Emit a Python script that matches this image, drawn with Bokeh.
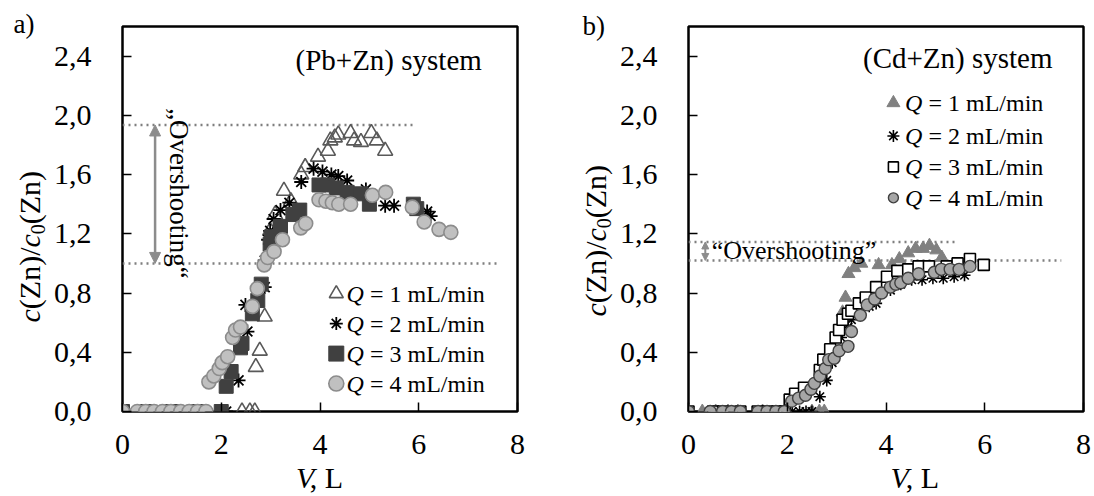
import math
from bokeh.plotting import figure
from bokeh.layouts import row, column
from bokeh.models import Label, Arrow, NormalHead, FixedTicker, CustomJSTickFormatter
from bokeh.embed import file_html
from bokeh.resources import INLINE

FONT = "Liberation Serif"

# ---------------- data: panel a, (Pb+Zn) system ----------------
a_q1_v = [0, 2.42, 2.58, 2.68, 2.70, 2.78, 2.88, 2.99, 3.09, 3.27, 3.41, 3.62, 3.70, 3.96, 4.16, 4.21,
          4.30, 4.37, 4.62, 4.69, 4.83, 5.04, 5.15, 5.32]
a_q1_c = [0, 0, 0, 0, 0.30, 0.41, 0.64, 1.22, 1.33, 1.49, 1.42, 1.60, 1.65, 1.72, 1.76, 1.83,
          1.85, 1.87, 1.88, 1.83, 1.82, 1.88, 1.83, 1.76]
a_q2_v = [0, 2.10, 2.35, 2.49, 2.53, 2.88, 2.88, 2.95, 2.99, 3.06, 3.20, 3.38, 3.62, 3.87, 4.05, 4.23,
          4.37, 4.55, 4.93, 5.32, 5.50, 6.17, 6.24]
a_q2_c = [0, 0, 0.21, 0.72, 0.54, 0.84, 1.02, 1.16, 1.22, 1.30, 1.36, 1.41, 1.55, 1.64, 1.62, 1.60,
          1.59, 1.56, 1.50, 1.39, 1.39, 1.35, 1.32]
a_q3_v = [0, 0.5, 1.0, 1.5, 2.0, 2.10, 2.20, 2.39, 2.42, 2.63, 2.74, 2.81, 2.99, 3.02, 3.20, 3.45,
          3.59, 3.98, 4.15, 4.33, 4.55, 4.83, 5.00, 5.89, 5.96]
a_q3_c = [0, 0, 0, 0, 0, 0.17, 0.27, 0.43, 0.46, 0.66, 0.75, 0.86, 1.13, 1.18, 1.25, 1.33,
          1.36, 1.53, 1.53, 1.51, 1.48, 1.47, 1.40, 1.40, 1.37]
a_q4_v = [0, 0.30, 0.47, 0.64, 0.81, 0.98, 1.18, 1.35, 1.52, 1.69, 1.75, 1.85, 1.96, 2.02, 2.13,
          2.23, 2.29, 2.39, 2.63, 2.73, 2.87, 2.94, 3.07, 3.24, 3.61, 3.71, 3.98, 4.12, 4.25, 4.38,
          4.62, 5.06, 5.33, 5.87, 6.11, 6.41, 6.65]
a_q4_c = [0, 0, 0, 0, 0, 0, 0, 0, 0, 0, 0.20, 0.24, 0.29, 0.33, 0.37,
          0.50, 0.55, 0.57, 0.71, 0.83, 0.99, 1.04, 1.08, 1.16, 1.24, 1.27, 1.43, 1.42, 1.41, 1.40,
          1.40, 1.46, 1.48, 1.38, 1.28, 1.23, 1.21]

# ---------------- data: panel b, (Cd+Zn) system ----------------
b_q1_v = [0, 0.28, 0.55, 0.80, 1.0, 1.5, 2.0, 2.5, 2.65, 2.75, 3.12, 3.18, 3.24, 3.36, 3.50, 3.85,
          4.12, 4.27, 4.45, 4.60, 4.75, 4.88, 5.02, 5.13]
b_q1_c = [0, 0, 0, 0, 0, 0, 0, 0, 0, 0, 0.67, 0.77, 0.93, 0.97, 1.00, 0.99,
          0.99, 1.03, 1.07, 1.10, 1.10, 1.12, 1.09, 1.04]
b_q2_v = [0, 0.50, 0.70, 1.05, 1.40, 1.60, 1.80, 2.10, 2.25, 2.38, 2.50, 2.66, 2.80, 2.91, 3.02,
          3.09, 3.23, 3.30, 3.45, 3.66, 3.80, 4.09, 4.30, 4.52, 4.73, 4.95, 5.16, 5.38, 5.59]
b_q2_c = [0, 0, 0, 0, 0, 0, 0, 0, 0, 0, 0, 0.10, 0.21, 0.33, 0.41,
          0.50, 0.57, 0.62, 0.68, 0.71, 0.73, 0.82, 0.86, 0.89, 0.89, 0.90, 0.90, 0.91, 0.92]
b_q3_v = [0, 0.50, 0.70, 1.05, 1.40, 1.60, 1.80, 1.95, 2.05, 2.16, 2.34, 2.66, 2.73, 2.87, 2.98,
          3.05, 3.12, 3.23, 3.30, 3.45, 3.59, 3.80, 4.02, 4.23, 4.45, 4.66, 4.87, 5.23, 5.45, 5.70, 5.98]
b_q3_c = [0, 0, 0, 0, 0, 0, 0, 0, 0.08, 0.12, 0.16, 0.28, 0.35, 0.42, 0.50,
          0.55, 0.62, 0.66, 0.68, 0.73, 0.77, 0.84, 0.91, 0.95, 0.96, 0.98, 0.98, 0.98, 1.00, 1.03, 0.99]
b_q4_v = [0, 0.44, 0.69, 0.87, 1.05, 1.41, 1.59, 1.77, 1.94, 2.09, 2.23, 2.37, 2.48, 2.55, 2.66,
          2.77, 2.84, 2.95, 3.05, 3.23, 3.30, 3.48, 3.62, 3.77, 3.91, 4.09, 4.20, 4.30, 4.45, 4.66,
          4.98, 5.12, 5.30, 5.48, 5.70]
b_q4_c = [0, 0, 0, 0, 0, 0, 0, 0, 0, 0.07, 0.09, 0.11, 0.15, 0.19, 0.24,
          0.29, 0.35, 0.36, 0.41, 0.44, 0.54, 0.65, 0.72, 0.76, 0.80, 0.84, 0.86, 0.87, 0.90, 0.93,
          0.94, 0.96, 0.96, 0.96, 0.98]

# reference levels of the "overshooting" annotation
a_over_top, a_over_base = 1.935, 1.0
b_over_top, b_over_base = 1.145, 1.02

x_ticks = [0, 2, 4, 6, 8]
y_ticks = [0, 0.4, 0.8, 1.2, 1.6, 2.0, 2.4]
legend_labels = ["= 1 mL/min", "= 2 mL/min", "= 3 mL/min", "= 4 mL/min"]

FS = 30            # tick / axis-title font size
COL_H = 494        # total height of every column
P_BOTTOM = 76      # bottom border of the chart figures
B_H = 35           # height of the strip that holds the x title
B_LIFT = 28        # that strip is pulled up over the empty bottom border
MID = 0.3375       # (ascent - descent) / 2 of Liberation Serif, in em


def base_fig(left_border, right_border):
    p = figure(frame_width=395, frame_height=385, x_range=(0, 8), y_range=(0, 2.6),
               output_backend="svg", toolbar_location=None,
               min_border_left=left_border, min_border_right=right_border,
               min_border_top=26, min_border_bottom=P_BOTTOM)
    p.align = "start"
    p.background_fill_color = "white"
    p.border_fill_color = "white"
    p.outline_line_color = "black"
    p.outline_line_width = 2.5
    p.xgrid.visible = False
    p.ygrid.visible = False
    for ax in (p.xaxis[0], p.yaxis[0]):
        ax.axis_line_color = None
        ax.major_tick_in = 9
        ax.major_tick_out = 0
        ax.minor_tick_line_color = None
        ax.major_tick_line_color = "black"
        ax.major_tick_line_width = 1.5
        ax.major_label_text_font = FONT
        ax.major_label_text_font_size = f"{FS}px"
        ax.major_label_text_color = "black"
    p.xaxis.ticker = FixedTicker(ticks=x_ticks)
    p.yaxis.ticker = FixedTicker(ticks=y_ticks)
    p.yaxis.formatter = CustomJSTickFormatter(code="return tick.toFixed(1).replace('.', ',');")
    p.xaxis.major_label_standoff = 23
    p.yaxis.major_label_standoff = 31
    return p


def strip(w, h):
    s = figure(width=w, height=h, x_range=(0, w), y_range=(0, h), output_backend="svg",
               toolbar_location=None, min_border=0, x_axis_location=None, y_axis_location=None)
    s.align = "start"
    s.outline_line_color = None
    s.xgrid.visible = False
    s.ygrid.visible = False
    s.background_fill_alpha = 0
    s.border_fill_alpha = 0
    return s


def lab(p, text, x, y, size, style="normal", angle=0.0, align="left", baseline="middle",
        units="data", color="black"):
    p.add_layout(Label(x=x, y=y, x_units=units, y_units=units, text=text, angle=angle,
                       text_font=FONT, text_font_size=f"{size}px", text_font_style=style,
                       text_align=align, text_baseline=baseline, text_color=color))


def left_strip(w, tag, tag_x, tag_base_page, base_x, start_page):
    """Panel tag and the y title c(Zn)/c0(Zn), rotated to read upwards."""
    s = strip(w, COL_H)
    lab(s, tag, tag_x, COL_H - tag_base_page + MID * 27, 27)
    pieces = [("c", "italic", FS, 0.444), ("(Zn)/", "normal", FS, 2.055),
              ("c", "italic", FS, 0.444), ("0", "normal", 20, 0.5), ("(Zn)", "normal", FS, 1.777)]
    pos = COL_H - start_page
    for t, st, sz, w_em in pieces:
        shift = 5 if t == "0" else 0
        cx = base_x + shift - MID * sz           # box centre, left of the baseline
        cy = pos + w_em * sz / 2
        lab(s, t, cx, cy, sz, style=st, angle=math.pi / 2, align="center")
        pos += w_em * sz
    return s


def bottom_strip(w, xstart):
    s = strip(w, B_H)
    s.margin = (-B_LIFT, 0, 0, 0)
    top_page = 411 + P_BOTTOM - B_LIFT
    centre = B_H - (487 - MID * FS - top_page)     # baseline at page y 487
    lab(s, "V", xstart, centre, FS, style="italic")
    lab(s, ", L", xstart + 0.611 * FS, centre, FS)
    return s


def legend(p, mx, rows, tx, specs):
    for (marker, size, kw), ry, txt in zip(specs, rows, legend_labels):
        p.scatter([mx], [ry], marker=marker, size=size, **kw)
        p.add_layout(Label(x=tx, y=ry, x_units="screen", y_units="data", text="Q",
                           text_font=FONT, text_font_size="24px", text_font_style="italic",
                           text_baseline="middle", text_color="black"))
        p.add_layout(Label(x=tx + 23.5, y=ry, x_units="screen", y_units="data", text=txt,
                           text_font=FONT, text_font_size="24px", text_baseline="middle",
                           text_color="black"))


def split(d):
    d = dict(d)
    m = d.pop("marker")
    s = d.pop("size")
    return m, s, d


dot = dict(line_dash="2 4", line_color="#7f7f7f", line_width=2.5)

# ---------------- panel a ----------------
pa = base_fig(72, 57)
pa.line([0, 5.89], [a_over_top, a_over_top], **dot)
pa.line([0, 7.59], [a_over_base, a_over_base], **dot)
pa.add_layout(Arrow(start=NormalHead(size=11, fill_color="#8c8c8c", line_color="#8c8c8c"),
                    end=NormalHead(size=11, fill_color="#8c8c8c", line_color="#8c8c8c"),
                    x_start=0.66, y_start=a_over_base, x_end=0.66, y_end=a_over_top,
                    line_color="#8c8c8c", line_width=2.5))
lab(pa, "\u201eOvershooting\u201c", 1.14, 1.473, 27, angle=-math.pi / 2, align="center")

a_q1 = dict(marker="triangle", size=15, fill_color=None, line_color="#595959", line_width=1.6)
a_q2 = dict(marker="asterisk", size=14, line_color="black", line_width=1.8)
a_q3 = dict(marker="square", size=14, fill_color="#404040", line_color="#404040", line_width=1)
a_q4 = dict(marker="circle", size=14, fill_color="#c0c0c0", line_color="#8c8c8c", line_width=1.6)
pa.scatter(a_q1_v, a_q1_c, **a_q1)
pa.scatter(a_q2_v, a_q2_c, **a_q2)
pa.scatter(a_q3_v, a_q3_c, **a_q3)
pa.scatter(a_q4_v, a_q4_c, **a_q4)

legend(pa, 4.33, [0.796, 0.594, 0.391, 0.189], 224,
       [split(dict(a_q1, size=14)), split(dict(a_q2, size=13)),
        split(dict(a_q3, size=15)), split(dict(a_q4, size=15))])
lab(pa, "(Pb+Zn) system", 173, 352, 29, units="screen")

# ---------------- panel b ----------------
pb = base_fig(72, 10)
pb.line([0, 5.46], [b_over_top, b_over_top], **dot)
pb.line([0, 7.55], [b_over_base, b_over_base], **dot)
pb.add_layout(Arrow(start=NormalHead(size=7, fill_color="#8c8c8c", line_color="#8c8c8c"),
                    end=NormalHead(size=7, fill_color="#8c8c8c", line_color="#8c8c8c"),
                    x_start=0.34, y_start=b_over_base, x_end=0.34, y_end=b_over_top,
                    line_color="#8c8c8c", line_width=2))
lab(pb, "\u201cOvershooting\u201d", 0.47, 1.089, 26)

b_q1 = dict(marker="triangle", size=13, fill_color="#808080", line_color="#808080", line_width=1)
b_q2 = dict(marker="asterisk", size=12, line_color="black", line_width=1.6)
b_q3 = dict(marker="square", size=11, fill_color="white", line_color="black", line_width=1.6)
b_q4 = dict(marker="circle", size=12, fill_color="#a6a6a6", line_color="#404040", line_width=1.4)
pb.scatter(b_q1_v, b_q1_c, **b_q1)
pb.scatter(b_q2_v, b_q2_c, **b_q2)
pb.scatter(b_q3_v, b_q3_c, **b_q3)
pb.scatter(b_q4_v, b_q4_c, **b_q4)

legend(pb, 4.15, [2.084, 1.861, 1.652, 1.443], 216.5,
       [split(dict(b_q1, size=13)), split(dict(b_q2, size=12)),
        split(dict(b_q3, size=10)), split(dict(b_q4, size=10))])
lab(pb, "(Cd+Zn) system", 174.5, 354, 29, units="screen")

# ---------------- strips holding the outer texts ----------------
la = left_strip(50, "a)", 13, 33, 39, 322)
lb = left_strip(42, "b)", 8, 35, 31, 316)
ba = bottom_strip(524, 280 - 50)
bb = bottom_strip(477, 860 - 616)

ca = column(pa, ba, spacing=0)
cb = column(pb, bb, spacing=0)
ca.align = "start"
cb.align = "start"
layout = row(la, ca, lb, cb, spacing=0)
layout.align = "start"
open("out.html", "w").write(file_html(layout, INLINE))
